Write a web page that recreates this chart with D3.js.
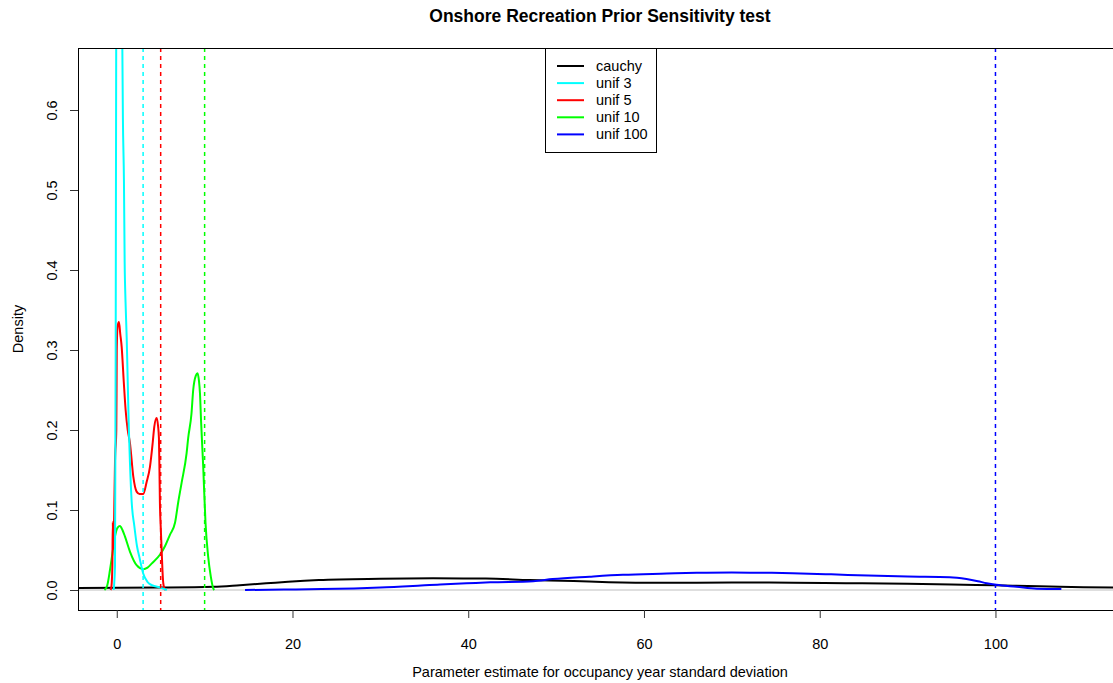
<!doctype html>
<html lang="en">
<head>
  <meta charset="utf-8">
  <title>Onshore Recreation Prior Sensitivity test</title>
  <script src="https://cdnjs.cloudflare.com/ajax/libs/d3/7.8.5/d3.min.js"></script>
  <style>
    body { margin: 0; background: #fff; }
    text { font-family: "Liberation Sans", Arial, sans-serif; fill: #000; }
  </style>
</head>
<body>
<svg width="1113" height="683" id="svg"></svg>
<script>
// series names + colours (legend order)
var seriesNames = ["cauchy", "unif 3", "unif 5", "unif 10", "unif 100"];
var seriesColors = ["#000000", "#00ffff", "#ff0000", "#00ff00", "#0000ff"];

// prior upper bounds, drawn as dashed verticals
var priorLimits = [3, 5, 10, 100];
var limitColors = ["#00ffff", "#ff0000", "#00ff00", "#0000ff"];

var xTicks = [0, 20, 40, 60, 80, 100];
var yTicks = [0.0, 0.1, 0.2, 0.3, 0.4, 0.5, 0.6];

// density estimates: [x, density]
var cauchy = [[-4.4,0.0025],[5,0.003],[11,0.004],[14,0.006],[17,0.0083],[19.5,0.0104],[23,0.0125],
  [30,0.014],[36,0.0146],[42,0.0143],[47,0.0125],[52,0.0112],[56,0.0098],[62,0.009],[70,0.0094],
  [77,0.0092],[83,0.0085],[90,0.0078],[95,0.007],[100,0.0058],[105,0.0048],[110,0.0035],[115,0.003]];

var unif3 = [[-0.35,0],[-0.2,0.03],[-0.12,0.3],[-0.06,0.7],[0.2,1.0],[0.5,0.9],[0.62,0.7],
  [0.7,0.59],[0.82,0.51],[0.9,0.41],[1.0,0.36],[1.13,0.316],[1.25,0.26],[1.38,0.2],
  [1.5,0.16],[1.7,0.11],[2.0,0.08],[2.3,0.055],[2.6,0.04],[3.0,0.021],[3.5,0.01],[4.0,0.006],
  [5.0,0.003],[5.7,0.0]];

var unif5 = [[-0.7,0],[-0.6,0.005],[-0.5,0.03],[-0.45,0.085],[-0.4,0.05],[-0.3,0.09],[-0.2,0.16],
  [-0.05,0.2],[-0.02,0.25],[0.0,0.3],[0.1,0.33],[0.25,0.335],[0.4,0.32],[0.56,0.304],[0.8,0.26],
  [1.01,0.225],[1.25,0.2],[1.5,0.184],[1.88,0.142],[2.26,0.123],[2.6,0.12],[3.01,0.12],[3.4,0.135],
  [3.78,0.154],[4.1,0.185],[4.27,0.204],[4.54,0.215],[4.7,0.205],[4.8,0.19],[4.86,0.15],[4.91,0.11],
  [5.0,0.08],[5.11,0.05],[5.2,0.025],[5.29,0.009],[5.4,0.003],[5.56,0]];

var unif10 = [[-1.4,0],[-1.1,0.005],[-0.77,0.025],[-0.5,0.045],[-0.2,0.067],[0.1,0.078],[0.36,0.08],
  [0.65,0.075],[0.93,0.067],[1.5,0.048],[2.26,0.031],[3.01,0.026],[3.5,0.028],[3.97,0.033],
  [4.91,0.044],[5.5,0.055],[6.05,0.069],[6.63,0.084],[7.0,0.11],[7.38,0.134],[7.95,0.171],
  [8.13,0.19],[8.5,0.22],[8.7,0.25],[9.0,0.268],[9.2,0.271],[9.35,0.262],[9.47,0.246],[9.6,0.21],
  [9.84,0.154],[10.1,0.084],[10.4,0.042],[10.7,0.017],[10.98,0.002],[11.1,0]];

var unif100 = [[14.6,0.0],[19,0.0006],[23.3,0.0012],[27,0.002],[30,0.003],[33.7,0.005],[36.8,0.007],
  [39.8,0.0083],[42.5,0.0096],[47.4,0.011],[49.6,0.0137],[53.8,0.0167],[57.6,0.019],[62.6,0.0205],
  [66,0.0215],[70,0.022],[74,0.0215],[76.9,0.021],[81.3,0.0196],[85.5,0.018],[90,0.0168],
  [94.8,0.016],[96.7,0.0137],[98,0.011],[99,0.0085],[100.1,0.0065],[102.4,0.004],[104.7,0.0015],
  [107.5,0.0012]];

var seriesData = [cauchy, unif3, unif5, unif10, unif100];

(function() {
  var svg = d3.select('#svg');

  // plot region (right edge runs off the image like the original)
  var pl = 78, pr = 1122, pt = 48, pb = 610;
  var fs = '14.5px';

  var x = d3.scaleLinear().domain([-4.41, 114.4]).range([pl, pr]);
  var y = d3.scaleLinear().domain([-0.025, 0.6775]).range([pb, pt]);

  svg.append('clipPath').attr('id', 'clip')
    .append('rect').attr('x', pl).attr('y', pt)
    .attr('width', pr - pl).attr('height', pb - pt);

  var plot = svg.append('g').attr('clip-path', 'url(#clip)');

  // zero line
  plot.append('line')
    .attr('x1', pl).attr('x2', pr)
    .attr('y1', y(0)).attr('y2', y(0))
    .attr('stroke', '#bebebe').attr('stroke-width', 1);

  var line = d3.line()
    .x(function(d) { return x(d[0]); })
    .y(function(d) { return y(d[1]); })
    .curve(d3.curveMonotoneX);

  // draw order: cauchy first, then the uniforms
  [0, 4, 3, 2, 1].forEach(function(i) {
    plot.append('path')
      .datum(seriesData[i])
      .attr('d', line)
      .attr('fill', 'none')
      .attr('stroke', seriesColors[i])
      .attr('stroke-width', 2)
      .attr('stroke-linejoin', 'round');
  });

  // dashed prior limits; a touch wider so the colour holds up
  plot.selectAll('line.limit')
    .data(priorLimits)
    .enter()
    .append('line')
    .attr('class', 'limit')
    .attr('x1', function(d) { return x(d); })
    .attr('x2', function(d) { return x(d); })
    .attr('y1', pt).attr('y2', pb)
    .style('stroke', function(d, i) { return limitColors[i]; })
    .attr('stroke-width', 1.5)
    .attr('stroke-dasharray', '4,4');

  // frame
  svg.append('rect')
    .attr('x', pl + 0.5).attr('y', pt + 0.5)
    .attr('width', pr - pl).attr('height', pb - pt)
    .attr('fill', 'none').attr('stroke', '#000').attr('stroke-width', 1);

  // x axis
  var xAxis = d3.axisBottom(x).tickValues(xTicks).tickSize(8).tickPadding(21)
    .tickFormat(d3.format('d'));
  var gx = svg.append('g').attr('transform', 'translate(0,' + pb + ')').call(xAxis);
  gx.select('.domain').remove();
  gx.selectAll('line').attr('stroke', '#333');
  gx.selectAll('text').style('font-size', fs).attr('fill', '#222');

  // y axis, labels turned like R's default
  var yAxis = d3.axisLeft(y).tickValues(yTicks).tickSize(8).tickFormat(d3.format('.1f'));
  var gy = svg.append('g').attr('transform', 'translate(' + pl + ',0)').call(yAxis);
  gy.select('.domain').remove();
  gy.selectAll('line').attr('stroke', '#333');
  gy.selectAll('text')
    .style('font-size', fs).attr('fill', '#222')
    .attr('x', 0).attr('dy', 0)
    .attr('text-anchor', 'middle')
    .attr('transform', 'translate(-21,0) rotate(-90)');

  // titles
  svg.append('text')
    .attr('x', (pl + pr) / 2).attr('y', 22)
    .attr('text-anchor', 'middle')
    .style('font-size', '17.5px').style('font-weight', 'bold')
    .text('Onshore Recreation Prior Sensitivity test');

  svg.append('text')
    .attr('x', (pl + pr) / 2).attr('y', 677)
    .attr('text-anchor', 'middle')
    .style('font-size', fs)
    .text('Parameter estimate for occupancy year standard deviation');

  svg.append('text')
    .attr('transform', 'translate(23,' + ((pt + pb) / 2) + ') rotate(-90)')
    .attr('text-anchor', 'middle')
    .style('font-size', fs)
    .text('Density');

  // legend
  var legend = svg.append('g').attr('transform', 'translate(545,48)');
  legend.append('rect')
    .attr('x', 0.5).attr('y', 0.5).attr('width', 111).attr('height', 104)
    .attr('fill', '#fff').attr('stroke', '#000').attr('stroke-width', 1);

  var rows = legend.selectAll('g.row')
    .data(seriesNames)
    .enter()
    .append('g')
    .attr('class', 'row')
    .attr('transform', function(d, i) { return 'translate(0,' + (18 + i * 17.1) + ')'; });

  rows.append('line')
    .attr('x1', 12).attr('x2', 39)
    .attr('stroke', function(d, i) { return seriesColors[i]; })
    .attr('stroke-width', 2);

  rows.append('text')
    .attr('x', 51).attr('dy', '0.35em')
    .style('font-size', fs)
    .text(function(d) { return d; });
})();
</script>
</body>
</html>
